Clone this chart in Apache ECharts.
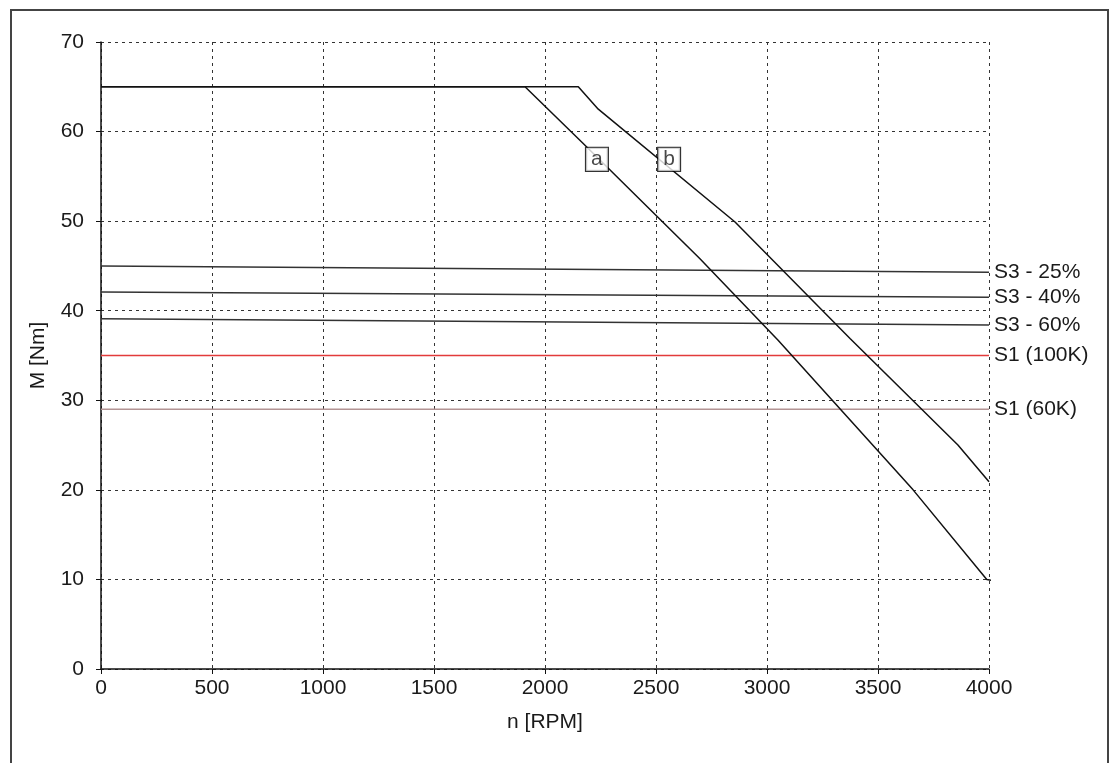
<!DOCTYPE html>
<html>
<head>
<meta charset="utf-8">
<title>M-n characteristic</title>
<script src="https://cdn.jsdelivr.net/npm/echarts@6/dist/echarts.min.js"></script>
<style>
  html, body { margin: 0; padding: 0; background: #fff; }
  #chart { width: 1113px; height: 763px; }
</style>
</head>
<body>
<div id="chart"></div>
<script>
// curve a / curve b: [n RPM, M Nm]
const curveA = [[0, 65], [1910, 65], [2171, 58.7], [2698, 45.8], [3050, 36.7], [3658, 20], [3990, 10], [4030, 9.8]]
const curveB = [[0, 65], [2150, 65], [2240, 62.5], [2856, 49.9], [3374, 36.9], [3860, 25], [4000, 20.9]]

// S3 / S1 operating limits
const s3_25 = [[0, 45.0], [4000, 44.3]]
const s3_40 = [[0, 42.1], [4000, 41.5]]
const s3_60 = [[0, 39.1], [4000, 38.4]]
const s1_100K = [[0, 35], [4000, 35]]
const s1_60K = [[0, 29], [4000, 29]]

// curve tags
const curveTags = [[2234, 56.9, 'a'], [2559, 56.9, 'b']]

const font = 'Liberation Sans, Arial, sans-serif'
const textColor = '#1a1a1a'
const fs = 21

function limitLine(name, data, color) {
  return {
    name: name,
    type: 'line',
    data: data,
    symbol: 'none',
    silent: true,
    lineStyle: { color: color, width: 1.5 },
    endLabel: {
      show: true,
      formatter: name,
      color: textColor,
      fontSize: fs,
      fontFamily: font,
      distance: 5
    }
  }
}

const chart = echarts.init(document.getElementById('chart'))

chart.setOption({
  animation: false,
  backgroundColor: '#fff',
  textStyle: { fontFamily: font },
  graphic: [{
    type: 'rect',
    shape: { x: 11, y: 10, width: 1097, height: 800 },
    style: { fill: 'none', stroke: '#444', lineWidth: 2 },
    silent: true
  }],
  grid: { left: 101, top: 42, right: 124, bottom: 94, containLabel: false },
  xAxis: {
    type: 'value',
    min: 0,
    max: 4000,
    interval: 500,
    name: 'n [RPM]',
    nameLocation: 'middle',
    nameGap: 43,
    nameTextStyle: { color: textColor, fontSize: fs, fontFamily: font },
    axisLine: { onZero: false, lineStyle: { color: '#111', width: 1.5 } },
    axisTick: { show: true, length: 5, lineStyle: { color: '#111' } },
    axisLabel: { color: textColor, fontSize: fs, margin: 9, fontFamily: font, formatter: v => String(v) },
    splitLine: { show: true, lineStyle: { color: '#333', type: [3, 4], width: 1 } }
  },
  yAxis: {
    type: 'value',
    min: 0,
    max: 70,
    interval: 10,
    name: 'M [Nm]',
    nameLocation: 'middle',
    nameRotate: 90,
    nameGap: 52,
    nameTextStyle: { color: textColor, fontSize: fs, fontFamily: font },
    axisLine: { show: true, lineStyle: { color: '#111', width: 1.5 } },
    axisTick: { show: true, length: 5, lineStyle: { color: '#111' } },
    axisLabel: { color: textColor, fontSize: fs, margin: 17, fontFamily: font },
    splitLine: { show: true, lineStyle: { color: '#333', type: [3, 4], width: 1 } }
  },
  series: [
    limitLine('S3 - 25%', s3_25, '#333'),
    limitLine('S3 - 40%', s3_40, '#333'),
    limitLine('S3 - 60%', s3_60, '#333'),
    limitLine('S1 (100K)', s1_100K, '#e23b3b'),
    limitLine('S1 (60K)', s1_60K, '#b39494'),
    {
      name: 'a',
      type: 'line',
      data: curveA,
      symbol: 'none',
      clip: false,
      lineStyle: { color: '#111', width: 1.5 }
    },
    {
      name: 'b',
      type: 'line',
      data: curveB,
      symbol: 'none',
      clip: false,
      lineStyle: { color: '#111', width: 1.5 }
    },
    {
      type: 'scatter',
      data: curveTags,
      symbolSize: 0,
      z: 10,
      label: {
        show: true,
        position: 'inside',
        formatter: p => p.data[2],
        color: textColor,
        fontSize: 21,
        fontFamily: font,
        backgroundColor: '#fff',
        borderColor: '#000',
        borderWidth: 1.2,
        padding: [2, 5, 0, 5]
      },
      emphasis: { disabled: true }
    }
  ]
})
</script>
</body>
</html>
